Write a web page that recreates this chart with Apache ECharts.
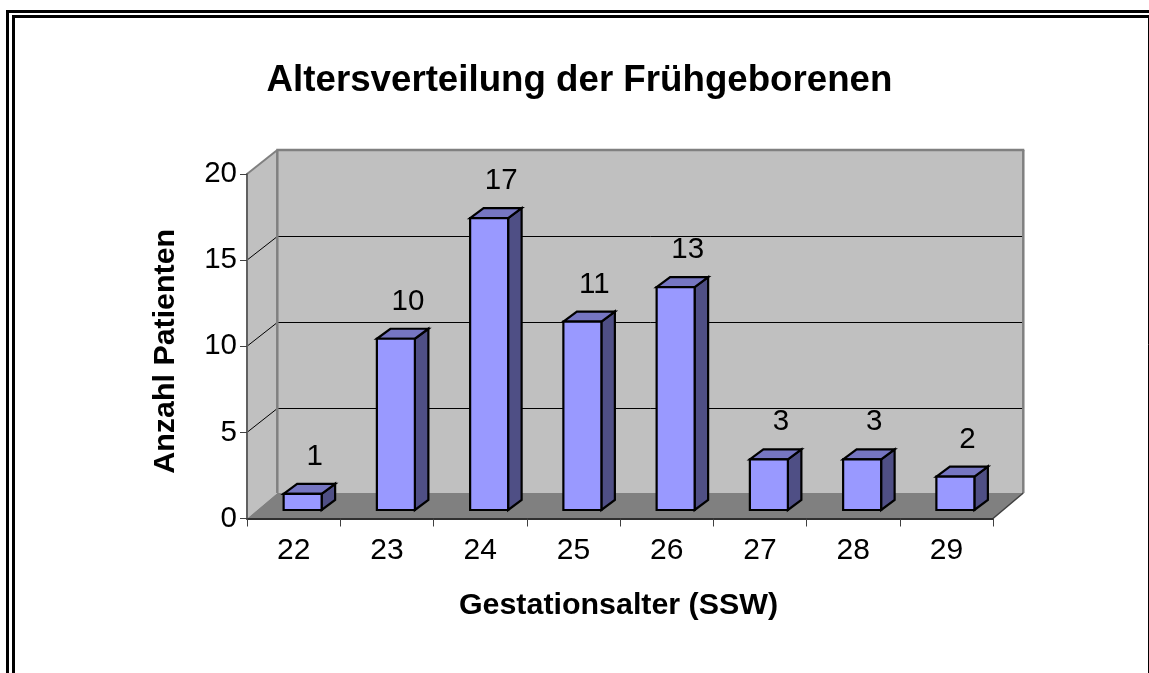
<!DOCTYPE html>
<html><head><meta charset="utf-8">
<style>html,body{margin:0;padding:0;background:#fff}#c{width:1149px;height:673px}</style>
<script src="https://cdn.jsdelivr.net/npm/echarts@6/dist/echarts.min.js"></script>
</head><body><div id="c"></div>
<script>
const categories = ['22','23','24','25','26','27','28','29'];
const patients = [1,10,17,11,13,3,3,2];
const yTicks = [0,5,10,15,20];
const titleText = 'Altersverteilung der Frühgeborenen';
const xName = 'Gestationsalter (SSW)';
const yName = 'Anzahl Patienten';
const FONT = '"Liberation Sans", Arial, sans-serif';
const DX = 30.3, DY = -25.5, DYW = -24;   // wall depth
const BDX = 13.5, BDY = -10;              // bar depth
const GX = 9, GY = -8.5;                  // bar offset from the front plane
const BARW = 38;

const chart = echarts.init(document.getElementById('c'), null, {renderer:'canvas'});
function wall(params, api){
  const band = api.size([1,0])[0];
  const x0 = api.coord([0,0])[0] - band/2;
  const x1 = api.coord([categories.length-1,0])[0] + band/2;
  const y0 = api.coord([0,yTicks[0]])[1];
  const yT = api.coord([0,yTicks[yTicks.length-1]])[1];
  const kids = [];
  const poly = (pts, fill) => kids.push({type:'polygon',shape:{points:pts},style:{fill:fill,stroke:null}});
  const line = (a,b,c,w) => kids.push({type:'line',shape:{x1:a[0],y1:a[1],x2:b[0],y2:b[1]},style:{stroke:c,lineWidth:w}});
  poly([[x0+DX,yT+DYW],[x1+DX,yT+DYW],[x1+DX,y0+DY],[x0+DX,y0+DY]],'#C0C0C0');
  poly([[x0,yT],[x0+DX,yT+DYW],[x0+DX,y0+DY],[x0,y0]],'#C0C0C0');
  poly([[x0,y0],[x1,y0],[x1+DX,y0+DY],[x0+DX,y0+DY]],'#808080');
  yTicks.slice(1,-1).forEach(t=>{
    const y = api.coord([0,t])[1];
    const yb = Math.floor(y+DYW)+0.5;
    line([x0,y],[x0+DX,yb],'#000',1);
    line([x0+DX,yb],[x1+DX,yb],'#000',1);
  });
  line([x0,yT],[x0+DX,yT+DYW],'#808080',2);
  line([x0+DX-1,yT+DYW],[x1+DX+1,yT+DYW],'#808080',2.5);
  line([x0+DX,yT+DYW],[x0+DX,y0+DY],'#808080',2.5);
  line([x1+DX,yT+DYW],[x1+DX,y0+DY],'#808080',2.5);
  line([x1,y0],[x1+DX,y0+DY],'#404040',1.5);
  return {type:'group',children:kids};
}
function bar3d(params, api){
  const c = api.value(0), v = api.value(1);
  const p = api.coord([c,v]), b = api.coord([c,0]);
  const l = p[0]-BARW/2+GX, r = l+BARW, t = p[1]+GY+1, f = b[1]+GY;
  const st = fill => ({fill:fill,stroke:'#000',lineWidth:2.2,lineJoin:'miter'});
  return {type:'group',children:[
    {type:'polygon',shape:{points:[[r,t],[r+BDX,t+BDY],[r+BDX,f+BDY],[r,f]]},style:st('#4F4F85')},
    {type:'polygon',shape:{points:[[l,t],[l+BDX,t+BDY],[r+BDX,t+BDY],[r,t]]},style:st('#7676C2')},
    {type:'rect',shape:{x:l,y:t,width:BARW,height:f-t},style:st('#9999FF')},
    {type:'text',style:{text:String(v),x:l+BARW/2+12,y:t-37,align:'center',verticalAlign:'middle',
      font:'29.5px '+FONT,fill:'#000'}}
  ]};
}
const H = 673, W = 1149;
chart.setOption({
  animation:false,
  backgroundColor:'#fff',
  title:{text:titleText,left:574.5,top:57,textAlign:'center',
    textStyle:{fontFamily:FONT,fontWeight:'bold',fontSize:36.7,color:'#000'}},
  grid:{left:247,right:W-993,top:174,bottom:H-518.5,containLabel:false},
  xAxis:{type:'category',data:categories,z:5,
    axisLine:{lineStyle:{color:'#303030',width:2}},
    axisTick:{show:true,length:8,alignWithLabel:false,lineStyle:{color:'#404040',width:1}},
    axisLabel:{fontFamily:FONT,fontSize:30,color:'#000',margin:17,interval:0},
    name:xName,nameLocation:'middle',nameGap:72,
    nameTextStyle:{fontFamily:FONT,fontWeight:'bold',fontSize:30.4,color:'#000',padding:[0,3,0,0]}},
  yAxis:{type:'value',min:0,max:20,interval:5,z:5,
    axisLine:{show:true,lineStyle:{color:'#606060',width:2}},
    axisTick:{show:true,length:7,lineStyle:{color:'#404040',width:1}},
    splitLine:{show:false},
    axisLabel:{fontFamily:FONT,fontSize:29.5,color:'#000',margin:10},
    name:yName,nameLocation:'middle',nameGap:66,nameRotate:90,
    nameTextStyle:{fontFamily:FONT,fontWeight:'bold',fontSize:30.4,color:'#000',padding:[0,10,0,0]}},
  series:[
    {type:'custom',coordinateSystem:'cartesian2d',z:1,silent:true,clip:false,renderItem:wall,data:[[0,0]]},
    {type:'custom',coordinateSystem:'cartesian2d',z:2,silent:true,clip:false,renderItem:bar3d,
      encode:{x:0,y:1},data:patients.map((v,i)=>[i,v])}
  ],
  graphic:[
    {type:'polyline',silent:true,shape:{points:[[7.5,H+2],[7.5,11.5],[W+5,11.5]]},style:{fill:null,stroke:'#000',lineWidth:3}},
    {type:'polyline',silent:true,shape:{points:[[13.5,H+2],[13.5,16.5],[W+5,16.5]]},style:{fill:null,stroke:'#000',lineWidth:3}},
    {type:'line',silent:true,shape:{x1:W-0.5,y1:16.5,x2:W-0.5,y2:H},style:{stroke:'#000',lineWidth:1}}
  ]
});
</script></body></html>
